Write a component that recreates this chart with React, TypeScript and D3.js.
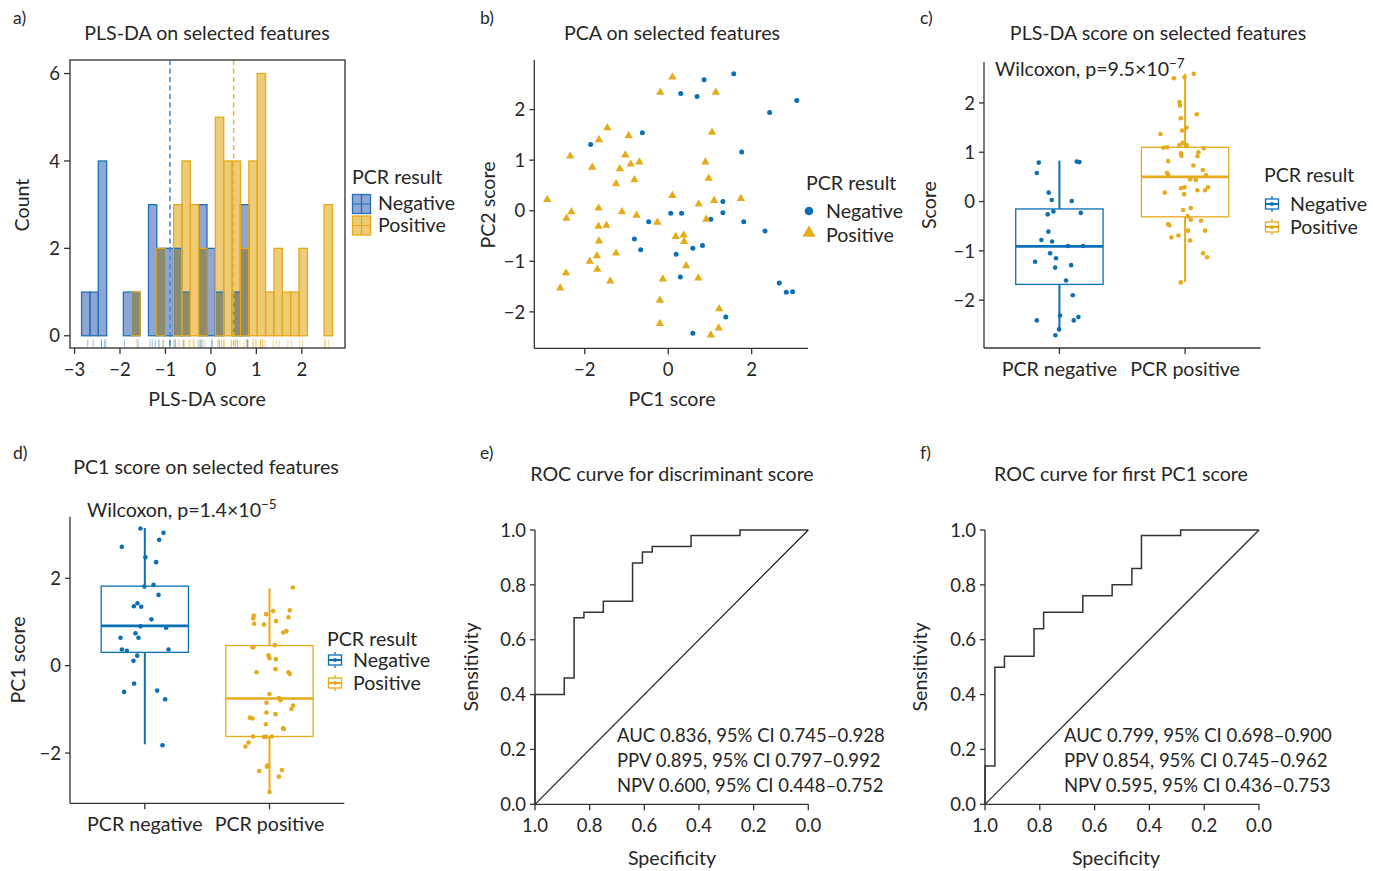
import React from "react";
import * as d3 from "d3";

// ---- data ----
const groups = ["Negative", "Positive"];
const boxCategories = ["PCR negative", "PCR positive"];

// PLS-DA scores (panel a histogram/rug and panel c)
const plsNeg = [0.79, 0.81, 0.8, 0.58, 0.18, 0.03, 0.01, -0.2, -0.26, -0.23, -0.61, -0.78, -0.81, -0.9, -0.9, -1.05, -1.15, -1.22, -1.29, -1.34, -1.6, -1.9, -2.31, -2.41, -2.34, -2.41, -2.59, -2.71];
const plsNegJitter = [-0.164, 0.138, 0.159, -0.18, -0.085, -0.061, 0.098, -0.048, -0.093, 0.17, -0.088, -0.143, -0.058, 0.069, 0.188, -0.074, -0.027, -0.194, 0.093, -0.034, 0.053, 0.106, 0.005, -0.18, 0.151, 0.114, -0.003, -0.032];
const plsPos = [2.59, 2.5, 2.52, 2.02, 1.95, 1.77, 1.69, 1.44, 1.37, 1.19, 1.14, 1.14, 1.09, 1.1, 1.08, 1.0, 0.98, 0.93, 0.92, 0.82, 0.73, 0.64, 0.58, 0.54, 0.53, 0.45, 0.44, 0.29, 0.27, 0.29, 0.18, 0.23, 0.23, 0.15, -0.13, -0.17, -0.37, -0.39, -0.46, -0.48, -0.59, -0.59, -0.69, -0.73, -0.79, -1.05, -1.13, -1.64, -0.3, 1.5];
const plsPosJitter = [0.069, -0.09, -0.005, -0.045, -0.04, 0.093, -0.034, -0.024, -0.196, -0.019, -0.045, 0.013, -0.172, -0.141, 0.149, 0.106, -0.032, -0.029, 0.098, -0.135, 0.066, 0.141, -0.143, -0.135, 0.167, 0.04, 0.085, -0.005, -0.032, 0.183, -0.162, 0.098, 0.159, -0.008, 0.045, -0.016, 0.045, 0.127, -0.135, -0.125, 0.159, 0.024, -0.053, -0.109, 0.04, 0.143, 0.175, -0.034, 0.02, 0.01];
const histStart = -2.846;
const histBinWidth = 0.184;
const histBins = 30;
const plsMedianLines = [-0.9, 0.5];

// PCA scores (panel b)
const pcaNegX = [1.57, 0.86, 0.3, 0.69, 3.08, 2.43, -0.62, -1.86, 1.76, 1.31, 0.06, 0.32, 1.31, 1.02, -0.47, 1.81, 2.32, -0.81, -0.66, 0.82, 0.59, 0.19, 0.29, 2.66, 2.83, 2.98, 1.38, 0.59];
const pcaNegY = [2.71, 2.59, 2.32, 2.26, 2.18, 1.94, 1.54, 1.31, 1.16, 0.18, -0.05, -0.05, -0.04, -0.17, -0.22, -0.22, -0.4, -0.56, -0.77, -0.69, -0.74, -0.86, -1.31, -1.43, -1.61, -1.6, -2.1, -2.42];
const pcaPosX = [0.1, -0.19, 1.14, -1.46, -1.66, -0.95, 1.05, -2.35, -1.03, -1.82, -1.16, -0.9, -0.69, 0.89, -1.25, -0.81, 0.97, -2.9, 0.1, 0.73, 1.1, 1.74, -2.32, -2.44, -1.67, -1.11, -0.76, -0.26, 0.91, -1.67, -1.48, -1.66, 0.18, 0.37, 0.38, -1.25, -1.88, -1.71, -1.7, 0.43, -2.45, -2.59, -1.39, -0.13, 0.72, -0.2, -0.2, 1.22, 1.21, 1.02];
const pcaPosY = [2.64, 2.34, 2.34, 1.64, 1.4, 1.48, 1.55, 1.08, 1.1, 0.86, 0.83, 0.92, 0.96, 0.96, 0.53, 0.61, 0.64, 0.22, 0.3, 0.13, 0.2, 0.24, -0.02, -0.15, 0.05, -0.02, -0.09, -0.23, -0.17, -0.31, -0.29, -0.6, -0.51, -0.48, -0.61, -0.84, -1.0, -0.89, -1.16, -1.09, -1.23, -1.53, -1.39, -1.35, -1.33, -1.77, -2.23, -1.94, -2.32, -2.46];

// PC1 scores (panel d)
const pc1Neg = [3.14, 3.04, 2.88, 2.72, 2.48, 2.37, 1.85, 1.81, 1.62, 1.43, 1.36, 1.35, 1.06, 0.9, 0.87, 0.74, 0.64, 0.64, 0.37, 0.34, 0.37, 0.23, 0.11, -0.41, -0.6, -0.57, -0.77, -1.82];
const pc1NegJitter = [-0.035, 0.15, 0.115, -0.184, 0.005, 0.091, 0.07, -0.003, 0.11, -0.059, -0.088, -0.029, 0.053, -0.035, 0.171, -0.075, -0.195, -0.051, -0.184, -0.144, 0.19, -0.061, -0.091, -0.086, -0.166, 0.099, 0.163, 0.142];
const pc1Pos = [1.79, 1.27, 1.25, 1.18, 1.15, 1.11, 1.08, 1.02, 0.96, 0.94, 0.79, 0.76, 0.47, 0.42, 0.43, 0.24, 0.17, 0.15, -0.08, -0.15, -0.15, -0.19, -0.65, -0.74, -0.79, -0.85, -0.91, -0.99, -1.07, -1.11, -1.19, -1.21, -1.34, -1.43, -1.45, -1.62, -1.63, -1.63, -1.62, -1.76, -1.85, -2.28, -2.31, -2.41, -2.39, -2.54, -2.89];
const pc1PosJitter = [0.187, 0.163, 0.029, -0.027, -0.126, 0.152, -0.131, 0.053, -0.123, -0.045, 0.136, 0.11, 0.043, -0.136, -0.128, -0.008, 0, 0.051, 0.048, -0.104, 0.152, 0.163, 0, 0.075, 0.088, -0.024, 0.19, 0.176, -0.024, 0.048, -0.158, -0.136, -0.029, 0.11, 0.115, -0.131, -0.045, -0.027, 0.019, -0.168, -0.193, -0.013, -0.021, -0.083, 0.099, 0.075, 0];

// box statistics [lower whisker, q1, median, q3, upper whisker]
const plsBoxNeg = [-2.64, -1.68, -0.91, -0.15, 0.83];
const plsBoxPos = [-1.63, -0.31, 0.5, 1.1, 2.59];
const pc1BoxNeg = [-1.8, 0.305, 0.91, 1.82, 3.15];
const pc1BoxPos = [-2.89, -1.62, -0.75, 0.46, 1.77];

// ROC curves
const rocDiscSpec = [1, 1, 0.893, 0.857, 0.821, 0.75, 0.643, 0.607, 0.571, 0.429, 0.25, 0];
const rocDiscSens = [0, 0.4, 0.46, 0.68, 0.7, 0.74, 0.88, 0.92, 0.94, 0.98, 1, 1];
const rocPc1Spec = [1, 1, 0.964, 0.929, 0.821, 0.786, 0.643, 0.536, 0.464, 0.429, 0.286, 0];
const rocPc1Sens = [0, 0.14, 0.5, 0.54, 0.64, 0.7, 0.76, 0.8, 0.86, 0.98, 1, 1];
const rocDiscStats = ["AUC 0.836, 95% CI 0.745\u20130.928", "PPV 0.895, 95% CI 0.797\u20130.992", "NPV 0.600, 95% CI 0.448\u20130.752"];
const rocPc1Stats = ["AUC 0.799, 95% CI 0.698\u20130.900", "PPV 0.854, 95% CI 0.745\u20130.962", "NPV 0.595, 95% CI 0.436\u20130.753"];

// ---- styling ----
const FONT = "Lato, 'Noto Sans', sans-serif";
const TXT = "#262626";
const AX = "#333333";
const BLUE = "#0b6fb5";
const ORANGE = "#e6aa1a";
const HIST_BLUE_FILL = "#8ea5d5";
const HIST_BLUE_LINE = "#1f72b8";
const HIST_OR_FILL = "#edcb79";
const HIST_OR_LINE = "#e5aa17";
const HIST_MIX = "#8c8b70";
const FS = 19.6; // words
const FN = 18.5; // numbers

type Scale = d3.ScaleLinear<number, number>;

function LeftAxis({ scale, x, ticks, fmt }: { scale: Scale; x: number; ticks: number[]; fmt: (v: number) => string }) {
  const [r0, r1] = scale.range();
  return (
    <g>
      <line x1={x} x2={x} y1={r0} y2={r1} stroke={AX} strokeWidth={1.3} />
      {ticks.map((t) => (
        <g key={t}>
          <line x1={x - 5} x2={x} y1={scale(t)} y2={scale(t)} stroke={AX} strokeWidth={1.3} />
          <text x={x - 9} y={scale(t)} dy="0.36em" textAnchor="end" fontSize={FN} fill={TXT}>
            {fmt(t)}
          </text>
        </g>
      ))}
    </g>
  );
}

function BottomAxis({ scale, y, ticks, fmt, line = true }: { scale: Scale; y: number; ticks: number[]; fmt: (v: number) => string; line?: boolean }) {
  const [r0, r1] = scale.range();
  return (
    <g>
      {line && <line x1={r0} x2={r1} y1={y} y2={y} stroke={AX} strokeWidth={1.3} />}
      {ticks.map((t) => (
        <g key={t}>
          <line x1={scale(t)} x2={scale(t)} y1={y} y2={y + 6} stroke={AX} strokeWidth={1.3} />
          <text x={scale(t)} y={y + 28} textAnchor="middle" fontSize={FN} fill={TXT}>
            {fmt(t)}
          </text>
        </g>
      ))}
    </g>
  );
}

function CatAxis({ scale, y }: { scale: d3.ScalePoint<string>; y: number }) {
  const [r0, r1] = scale.range();
  return (
    <g>
      <line x1={r0} x2={r1} y1={y} y2={y} stroke={AX} strokeWidth={1.3} />
      {scale.domain().map((c) => (
        <g key={c}>
          <line x1={scale(c)} x2={scale(c)} y1={y} y2={y + 6} stroke={AX} strokeWidth={1.3} />
          <text x={scale(c)} y={y + 28} textAnchor="middle" fontSize={FS} fill={TXT}>
            {c}
          </text>
        </g>
      ))}
    </g>
  );
}

function YTitle({ x, y, text }: { x: number; y: number; text: string }) {
  return (
    <text transform={`translate(${x},${y}) rotate(-90)`} textAnchor="middle" fontSize={FS} fill={TXT}>
      {text}
    </text>
  );
}

function Box({ stats, cx, w, yS, color }: { stats: number[]; cx: number; w: number; yS: Scale; color: string }) {
  const [lo, q1, med, q3, hi] = stats;
  return (
    <g>
      <line x1={cx} x2={cx} y1={yS(hi)} y2={yS(q3)} stroke={color} strokeWidth={2} />
      <line x1={cx} x2={cx} y1={yS(q1)} y2={yS(lo)} stroke={color} strokeWidth={2} />
      <rect x={cx - w / 2} y={yS(q3)} width={w} height={yS(q1) - yS(q3)} fill="none" stroke={color} strokeWidth={1.3} />
      <line x1={cx - w / 2} x2={cx + w / 2} y1={yS(med)} y2={yS(med)} stroke={color} strokeWidth={2.6} />
    </g>
  );
}

function BoxLegend({ x, y, first, gap }: { x: number; y: number; first: number; gap: number }) {
  const cols = [BLUE, ORANGE];
  return (
    <g>
      <text x={x} y={y} dy="0.36em" fontSize={FS} fill={TXT}>PCR result</text>
      {groups.map((g, i) => {
        const cy = y + first + i * gap;
        return (
          <g key={g}>
            <line x1={x + 8} x2={x + 8} y1={cy - 8} y2={cy + 8} stroke={cols[i]} strokeWidth={1.3} />
            <rect x={x + 1.5} y={cy - 5} width={13} height={10} fill="#fff" stroke={cols[i]} strokeWidth={1.3} />
            <line x1={x + 1.5} x2={x + 14.5} y1={cy} y2={cy} stroke={cols[i]} strokeWidth={2} />
            <circle cx={x + 8} cy={cy} r={2} fill={cols[i]} />
            <text x={x + 26} y={cy} dy="0.36em" fontSize={FS} fill={TXT}>{g}</text>
          </g>
        );
      })}
    </g>
  );
}

function Wilcoxon({ x, y, p, exp }: { x: number; y: number; p: string; exp: string }) {
  return (
    <text x={x} y={y} fontSize={FS} fill={TXT}>
      {`Wilcoxon, p=${p}\u00d710`}
      <tspan fontSize={13.5} dy={-8}>{exp}</tspan>
    </text>
  );
}

function Roc({ xS, yS, spec, sens, stats, textX }: { xS: Scale; yS: Scale; spec: number[]; sens: number[]; stats: string[]; textX: number }) {
  const pts = spec.map((s, i) => [s, sens[i]] as [number, number]);
  const line = d3
    .line<[number, number]>()
    .x((d) => xS(d[0]))
    .y((d) => yS(d[1]))
    .curve(d3.curveStepAfter);
  return (
    <g>
      <line x1={xS(1)} y1={yS(0)} x2={xS(0)} y2={yS(1)} stroke="#222" strokeWidth={1.2} />
      <path d={line(pts) || ""} fill="none" stroke="#333" strokeWidth={1.5} />
      {stats.map((s, i) => (
        <text key={s} x={textX} y={yS(0.2) - 7 + i * 25} fontSize={FN} fill={TXT}>
          {s}
        </text>
      ))}
    </g>
  );
}

export default function App() {
  const fmtInt = d3.format("d");
  const fmt1 = d3.format(".1f");

  // ---------- panel a ----------
  const xA = d3.scaleLinear().domain([-3.1, 2.95]).range([70, 345]);
  const yA = d3.scaleLinear().domain([-0.28, 6.31]).range([348, 60]);
  const thresholds = d3.range(histBins + 1).map((i) => histStart + i * histBinWidth);
  const binner = d3
    .bin<number, number>()
    .domain([thresholds[0], thresholds[histBins]])
    .thresholds(thresholds.slice(1, histBins));
  const binsNeg = binner(plsNeg);
  const binsPos = binner(plsPos);

  // ---------- panel b ----------
  const xB = d3.scaleLinear().domain([-3.21, 3.35]).range([534.3, 808]);
  const yB = d3.scaleLinear().domain([-2.72, 2.98]).range([348.3, 60]);
  const tri = d3.symbol().type(d3.symbolTriangle).size(30)() || "";
  const triBig = d3.symbol().type(d3.symbolTriangle).size(75)() || "";

  // ---------- panel c ----------
  const xC = d3.scalePoint<string>().domain(boxCategories).range([984, 1260.5]).padding(0.6);
  const yC = d3.scaleLinear().domain([-2.97, 2.83]).range([348, 62]);
  const stepC = xC.step();

  // ---------- panel d ----------
  const xD = d3.scalePoint<string>().domain(boxCategories).range([70, 344.3]).padding(0.6);
  const yD = d3.scaleLinear().domain([-3.15, 3.41]).range([803.3, 516.7]);
  const stepD = xD.step();

  // ---------- panels e, f ----------
  const xE = d3.scaleLinear().domain([1, 0]).range([535, 808.3]);
  const yE = d3.scaleLinear().domain([0, 1]).range([804.3, 530]);
  const xF = d3.scaleLinear().domain([1, 0]).range([985, 1259]);
  const yF = d3.scaleLinear().domain([0, 1]).range([804.3, 530]);
  const rocTicks = d3.range(0, 1.01, 0.2).map((v) => +v.toFixed(1));

  const histColors = [HIST_BLUE_LINE, HIST_OR_LINE];
  const histFills = [HIST_BLUE_FILL, HIST_OR_FILL];

  return (
    <svg
      width={1373}
      height={871}
      style={{ position: "absolute", left: 0, top: 0, background: "#fff" }}
      fontFamily={FONT}
    >
      {/* panel labels */}
      {[
        ["a)", 13, 24],
        ["b)", 480, 24],
        ["c)", 920, 24],
        ["d)", 13, 459],
        ["e)", 480, 459],
        ["f)", 920, 459],
      ].map(([t, x, y]) => (
        <text key={t as string} x={x as number} y={y as number} fontSize={17.5} fill={TXT}>
          {t}
        </text>
      ))}

      {/* ================= a ================= */}
      <text x={207} y={40} textAnchor="middle" fontSize={FS} fill={TXT}>PLS-DA on selected features</text>
      <g>
        {binsNeg.map((b, i) => (
          <rect key={"bf" + i} x={xA(b.x0!)} y={yA(b.length)} width={xA(b.x1!) - xA(b.x0!)} height={yA(0) - yA(b.length)} fill={HIST_BLUE_FILL} />
        ))}
        {binsPos.map((b, i) => (
          <rect key={"of" + i} x={xA(b.x0!)} y={yA(b.length)} width={xA(b.x1!) - xA(b.x0!)} height={yA(0) - yA(b.length)} fill={HIST_OR_FILL} />
        ))}
        {binsPos.map((b, i) => {
          const m = Math.min(b.length, binsNeg[i].length);
          return m > 0 ? (
            <rect key={"mf" + i} x={xA(b.x0!)} y={yA(m)} width={xA(b.x1!) - xA(b.x0!)} height={yA(0) - yA(m)} fill={HIST_MIX} />
          ) : null;
        })}
        {[binsNeg, binsPos].map((bins, g) =>
          bins.map((b, i) => (
            <rect key={"s" + g + i} x={xA(b.x0!)} y={yA(b.length)} width={xA(b.x1!) - xA(b.x0!)} height={yA(0) - yA(b.length)} fill="none" stroke={histColors[g]} strokeWidth={1.3} />
          ))
        )}
        {[plsNeg, plsPos].map((vals, g) =>
          vals.map((v, i) => (
            <line key={"r" + g + i} x1={xA(v)} x2={xA(v)} y1={348} y2={339.4} stroke={histColors[g]} strokeOpacity={0.4} strokeWidth={1.1} />
          ))
        )}
        {plsMedianLines.map((v, g) => (
          <line key={"ml" + g} x1={xA(v)} x2={xA(v)} y1={60} y2={348} stroke={g === 0 ? "#3a87c8" : "#edb63e"} strokeWidth={1.5} strokeDasharray="5,3.5" />
        ))}
        <rect x={70} y={60} width={275} height={288} fill="none" stroke="#4a4a4a" strokeWidth={1.5} />
        {[0, 2, 4, 6].map((t) => (
          <g key={t}>
            <line x1={64} x2={70} y1={yA(t)} y2={yA(t)} stroke={AX} strokeWidth={1.3} />
            <text x={60} y={yA(t)} dy="0.36em" textAnchor="end" fontSize={FN} fill={TXT}>{fmtInt(t)}</text>
          </g>
        ))}
        <BottomAxis scale={xA} y={348} ticks={[-3, -2, -1, 0, 1, 2]} fmt={fmtInt} line={false} />
        <text x={207} y={406} textAnchor="middle" fontSize={FS} fill={TXT}>PLS-DA score</text>
        <YTitle x={29} y={205} text="Count" />
        {/* legend */}
        <text x={352} y={177} dy="0.36em" fontSize={FS} fill={TXT}>PCR result</text>
        {groups.map((g, i) => {
          const y0 = 194.5 + i * 21.5;
          return (
            <g key={g}>
              <rect x={352.5} y={y0} width={18} height={19} fill={histFills[i]} stroke={histColors[i]} strokeWidth={1.3} />
              <line x1={361.5} x2={361.5} y1={y0} y2={y0 + 19} stroke={histColors[i]} strokeWidth={1.3} />
              <line x1={352.5} x2={370.5} y1={y0 + 9.5} y2={y0 + 9.5} stroke={histColors[i]} strokeWidth={1} />
              <text x={378} y={y0 + 8.5} dy="0.36em" fontSize={FS} fill={TXT}>{g}</text>
            </g>
          );
        })}
      </g>

      {/* ================= b ================= */}
      <text x={672} y={40} textAnchor="middle" fontSize={FS} fill={TXT}>PCA on selected features</text>
      <g>
        {pcaNegX.map((v, i) => (
          <circle key={"bn" + i} cx={xB(v)} cy={yB(pcaNegY[i])} r={2.5} fill={BLUE} />
        ))}
        {pcaPosX.map((v, i) => (
          <path key={"bp" + i} d={tri} transform={`translate(${xB(v)},${yB(pcaPosY[i])})`} fill={ORANGE} />
        ))}
        <LeftAxis scale={yB} x={534.3} ticks={[-2, -1, 0, 1, 2]} fmt={fmtInt} />
        <BottomAxis scale={xB} y={348.3} ticks={[-2, 0, 2]} fmt={fmtInt} />
        <text x={672} y={406} textAnchor="middle" fontSize={FS} fill={TXT}>PC1 score</text>
        <YTitle x={495} y={205} text="PC2 score" />
        <text x={806} y={183} dy="0.36em" fontSize={FS} fill={TXT}>PCR result</text>
        <circle cx={809} cy={211} r={4.3} fill={BLUE} />
        <text x={826} y={211} dy="0.36em" fontSize={FS} fill={TXT}>Negative</text>
        <path d={triBig} transform="translate(809,233)" fill={ORANGE} />
        <text x={826} y={235} dy="0.36em" fontSize={FS} fill={TXT}>Positive</text>
      </g>

      {/* ================= c ================= */}
      <text x={1158} y={40} textAnchor="middle" fontSize={FS} fill={TXT}>PLS-DA score on selected features</text>
      <g>
        <Box stats={plsBoxNeg} cx={xC(boxCategories[0])!} w={stepC * 0.695} yS={yC} color={BLUE} />
        <Box stats={plsBoxPos} cx={xC(boxCategories[1])!} w={stepC * 0.695} yS={yC} color={ORANGE} />
        {plsNeg.map((v, i) => (
          <circle key={"cn" + i} cx={xC(boxCategories[0])! + plsNegJitter[i] * stepC} cy={yC(v)} r={2.3} fill={BLUE} />
        ))}
        {plsPos.map((v, i) => (
          <circle key={"cp" + i} cx={xC(boxCategories[1])! + plsPosJitter[i] * stepC} cy={yC(v)} r={2.3} fill={ORANGE} />
        ))}
        <LeftAxis scale={yC} x={984} ticks={[-2, -1, 0, 1, 2]} fmt={fmtInt} />
        <CatAxis scale={xC} y={348} />
        <YTitle x={936} y={205} text="Score" />
        <Wilcoxon x={995} y={76} p="9.5" exp={"\u22127"} />
        <BoxLegend x={1264} y={175} first={29} gap={23} />
      </g>

      {/* ================= d ================= */}
      <text x={206} y={474} textAnchor="middle" fontSize={FS} fill={TXT}>PC1 score on selected features</text>
      <g>
        <Box stats={pc1BoxNeg} cx={xD(boxCategories[0])!} w={stepD * 0.7} yS={yD} color={BLUE} />
        <Box stats={pc1BoxPos} cx={xD(boxCategories[1])!} w={stepD * 0.7} yS={yD} color={ORANGE} />
        {pc1Neg.map((v, i) => (
          <circle key={"dn" + i} cx={xD(boxCategories[0])! + pc1NegJitter[i] * stepD} cy={yD(v)} r={2.3} fill={BLUE} />
        ))}
        {pc1Pos.map((v, i) => (
          <circle key={"dp" + i} cx={xD(boxCategories[1])! + pc1PosJitter[i] * stepD} cy={yD(v)} r={2.3} fill={ORANGE} />
        ))}
        <LeftAxis scale={yD} x={70} ticks={[-2, 0, 2]} fmt={fmtInt} />
        <CatAxis scale={xD} y={803.3} />
        <YTitle x={25} y={660} text="PC1 score" />
        <Wilcoxon x={87} y={517} p="1.4" exp={"\u22125"} />
        <BoxLegend x={327} y={639} first={21} gap={23} />
      </g>

      {/* ================= e ================= */}
      <text x={672} y={481} textAnchor="middle" fontSize={FS} fill={TXT}>ROC curve for discriminant score</text>
      <g>
        <Roc xS={xE} yS={yE} spec={rocDiscSpec} sens={rocDiscSens} stats={rocDiscStats} textX={617} />
        <LeftAxis scale={yE} x={535} ticks={rocTicks} fmt={fmt1} />
        <BottomAxis scale={xE} y={804.3} ticks={rocTicks} fmt={fmt1} />
        <text x={672} y={865} textAnchor="middle" fontSize={FS} fill={TXT}>Specificity</text>
        <YTitle x={478} y={667} text="Sensitivity" />
      </g>

      {/* ================= f ================= */}
      <text x={1121} y={481} textAnchor="middle" fontSize={FS} fill={TXT}>ROC curve for first PC1 score</text>
      <g>
        <Roc xS={xF} yS={yF} spec={rocPc1Spec} sens={rocPc1Sens} stats={rocPc1Stats} textX={1064} />
        <LeftAxis scale={yF} x={985} ticks={rocTicks} fmt={fmt1} />
        <BottomAxis scale={xF} y={804.3} ticks={rocTicks} fmt={fmt1} />
        <text x={1116} y={865} textAnchor="middle" fontSize={FS} fill={TXT}>Specificity</text>
        <YTitle x={927} y={667} text="Sensitivity" />
      </g>
    </svg>
  );
}
